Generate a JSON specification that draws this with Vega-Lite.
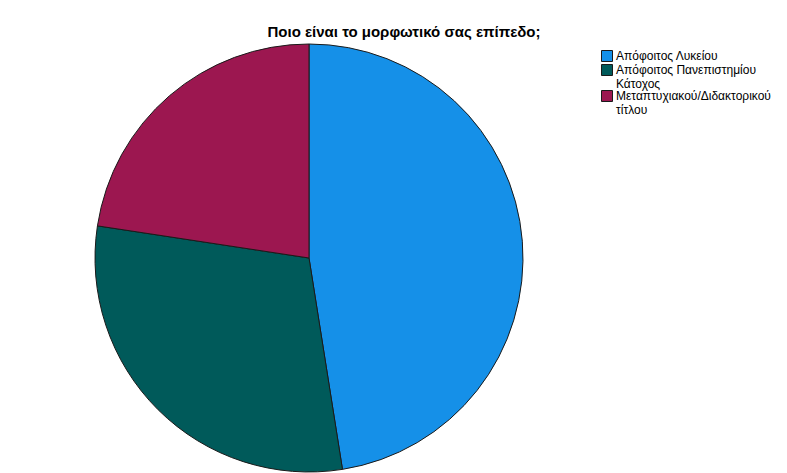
{
  "$schema": "https://vega.github.io/schema/vega-lite/v6.json",
  "width": 618,
  "height": 430,
  "autosize": "none",
  "padding": {"left": 0, "top": 43, "right": 169, "bottom": 0},
  "background": "white",
  "title": {
    "text": "Ποιο είναι το μορφωτικό σας επίπεδο;",
    "font": "Liberation Sans",
    "fontSize": 15,
    "fontWeight": "bold",
    "color": "#000000",
    "anchor": "middle",
    "dx": 95,
    "offset": 2
  },
  "data": {
    "values": [
      {"level": "Απόφοιτος Λυκείου", "pct": 47.5, "ord": 1},
      {"level": "Απόφοιτος Πανεπιστημίου", "pct": 29.9, "ord": 2},
      {"level": "Κάτοχος Μεταπτυχιακού/Διδακτορικού τίτλου", "pct": 22.6, "ord": 3}
    ]
  },
  "mark": {"type": "arc", "outerRadius": 214, "stroke": "#1a1a1a", "strokeWidth": 1},
  "encoding": {
    "theta": {"field": "pct", "type": "quantitative", "stack": true},
    "order": {"field": "ord", "type": "quantitative"},
    "color": {
      "field": "level",
      "type": "nominal",
      "sort": ["Απόφοιτος Λυκείου", "Απόφοιτος Πανεπιστημίου", "Κάτοχος Μεταπτυχιακού/Διδακτορικού τίτλου"],
      "scale": {
        "domain": ["Απόφοιτος Λυκείου", "Απόφοιτος Πανεπιστημίου", "Κάτοχος Μεταπτυχιακού/Διδακτορικού τίτλου"],
        "range": ["#1590E8", "#005A5A", "#9C1750"]
      },
      "legend": {
        "title": null,
        "orient": "none",
        "legendX": 601,
        "legendY": 7,
        "symbolType": "square",
        "symbolSize": 121,
        "symbolStrokeColor": "#1a1a1a",
        "symbolStrokeWidth": 1,
        "symbolOpacity": 1,
        "labelFont": "Liberation Sans",
        "labelFontSize": 12,
        "labelColor": "#000000",
        "labelLimit": 300,
        "labelOffset": 3,
        "rowPadding": -2,
        "labelExpr": "datum.label == 'Απόφοιτος Πανεπιστημίου' ? ['Απόφοιτος Πανεπιστημίου', 'Κάτοχος'] : datum.label == 'Κάτοχος Μεταπτυχιακού/Διδακτορικού τίτλου' ? ['Μεταπτυχιακού/Διδακτορικού', 'τίτλου'] : datum.label"
      }
    }
  },
  "config": {"view": {"stroke": null}, "style": {"guide-label": {"lineHeight": 14}}}
}
